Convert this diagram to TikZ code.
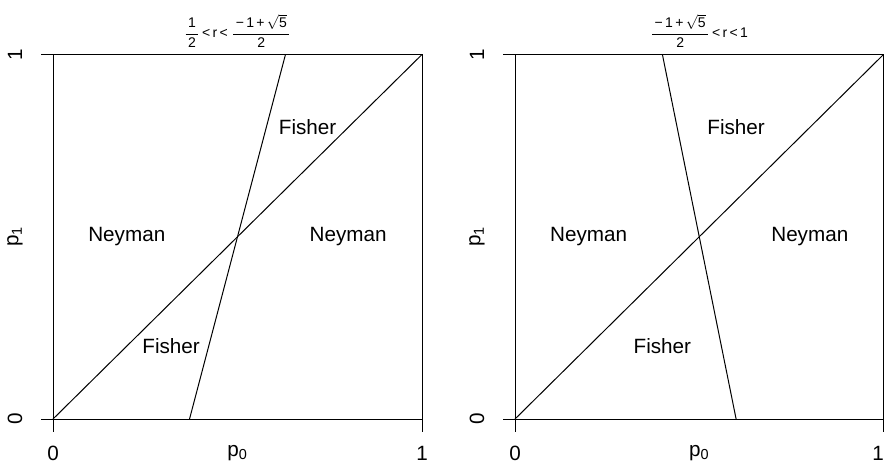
\documentclass[tikz,border=0pt]{standalone}
\usepackage{amsmath}
\usepackage{fontspec}
\setmainfont{Liberation Sans}
\usepackage{tikz}

\tikzset{
    feld/.style={font=\fontsize{15.5}{17}\selectfont},
    achse/.style={font=\fontsize{15.5}{17}\selectfont},
    titel/.style={font=\fontsize{10.5}{12}\selectfont},
}
% Bruch im Titel mit etwas verlaengertem Strich
\newcommand{\titelbruch}[2]{\dfrac{\,\text{#1}\,}{\text{#2}}}

\begin{document}
\begin{tikzpicture}[x=0.75pt, y=-0.75pt, line width=0.75pt]
        \useasboundingbox (0,0) rectangle (884,469);

        % linkes Diagramm: 1/2 < r < (-1+sqrt5)/2
        \begin{scope}[shift={(53,419)}, x=276.75pt, y=273.375pt]
            \coordinate (LU) at (0,0); % Ursprung
            \coordinate (LO) at (1,1);
            \draw (LU) rectangle (LO); % Rahmen
            \draw (LU) -- (LO); % Diagonale p1 = p0
            \coordinate (LA) at (0.37,0);
            \coordinate (LB) at (0.63,1);
            \draw (LA) -- (LB); % Grenze Fisher/Neyman

            % Achsenstriche
            \draw (0,0) -- ++(0,-9.75pt) (1,0) -- ++(0,-9.75pt);
            \draw (0,0) -- ++(-9pt,0) (0,1) -- ++(-9pt,0);

            % Beschriftungen
            \node[achse, yshift=-25.5pt] (lx0) at (0,0) {0};
            \node[achse, yshift=-25.5pt] (lxp) at (0.5,0) {p\textsubscript{0}};
            \node[achse, yshift=-25.5pt] (lx1) at (1,0) {1};
            \node[achse, rotate=90, yshift=28.5pt] (ly0) at (0,0) {0};
            \node[achse, rotate=90, yshift=28.5pt] (lyp) at (0,0.5) {p\textsubscript{1}};
            \node[achse, rotate=90, yshift=28.5pt] (ly1) at (0,1) {1};
            \node[titel, yshift=17.5pt] (lt) at (0.5,1)
                {$\titelbruch{1}{2}\text{\,<\,r\,<\;}\titelbruch{−\,1\,+\,$\sqrt{\text{5}}$}{2}$};

            \node[feld] (lf1) at (0.69,0.8) {Fisher};
            \node[feld] (ln1) at (0.2,0.5) {Neyman};
            \node[feld] (ln2) at (0.8,0.5) {Neyman};
            \node[feld] (lf2) at (0.32,0.2) {Fisher};
        \end{scope}

        % rechtes Diagramm: (-1+sqrt5)/2 < r < 1
        \begin{scope}[shift={(515,419)}, x=276.375pt, y=273.375pt]
            \coordinate (RU) at (0,0);
            \coordinate (RO) at (1,1);
            \draw (RU) rectangle (RO);
            \draw (RU) -- (RO);
            \coordinate (RA) at (0.4,1);
            \coordinate (RB) at (0.6,0);
            \draw (RA) -- (RB);

            \draw (0,0) -- ++(0,-9.75pt) (1,0) -- ++(0,-9.75pt);
            \draw (0,0) -- ++(-9pt,0) (0,1) -- ++(-9pt,0);

            \node[achse, yshift=-25.5pt] (rx0) at (0,0) {0};
            \node[achse, yshift=-25.5pt] (rxp) at (0.5,0) {p\textsubscript{0}};
            \node[achse, yshift=-25.5pt, xshift=-4pt] (rx1) at (1,0) {1};
            \node[achse, rotate=90, yshift=28.5pt] (ry0) at (0,0) {0};
            \node[achse, rotate=90, yshift=28.5pt] (ryp) at (0,0.5) {p\textsubscript{1}};
            \node[achse, rotate=90, yshift=28.5pt] (ry1) at (0,1) {1};
            \node[titel, yshift=17.5pt] (rt) at (0.5,1)
                {$\titelbruch{−\,1\,+\,$\sqrt{\text{5}}$}{2}\text{\,<\,r\,<\,1}$};

            \node[feld] (rf1) at (0.6,0.8) {Fisher};
            \node[feld] (rn1) at (0.2,0.5) {Neyman};
            \node[feld] (rn2) at (0.8,0.5) {Neyman};
            \node[feld] (rf2) at (0.4,0.2) {Fisher};
        \end{scope}
    \end{tikzpicture}
\end{document}
